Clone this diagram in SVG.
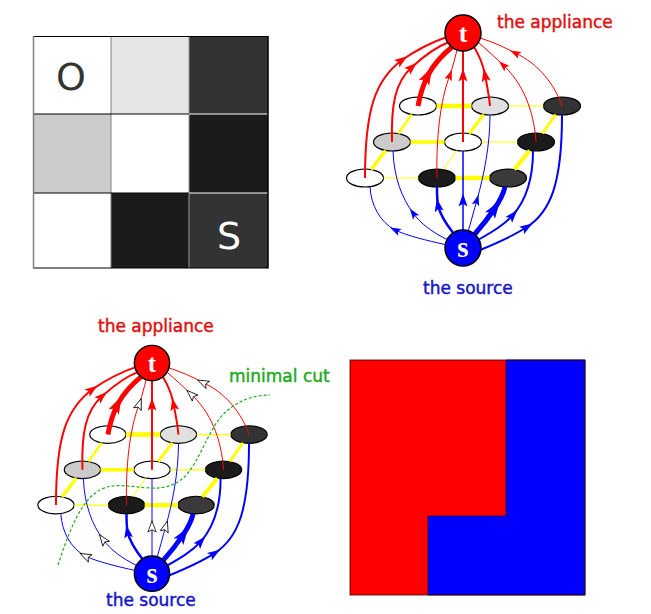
<svg xmlns="http://www.w3.org/2000/svg" width="651" height="614" viewBox="0 0 651 614">
<style>
.lbl{font-family:"DejaVu Sans","Liberation Sans",sans-serif;font-size:17px;stroke-width:0.45}
.red{fill:none;stroke:#f00}
.blue{fill:none;stroke:#00f}
.yel{stroke:#ffff00;fill:none}
.nd{stroke:#000;stroke-width:1.2}
.st{stroke:#000;stroke-width:1.5}
.ts{font-family:"Liberation Serif","DejaVu Serif",serif;font-weight:bold;fill:#fff;text-anchor:middle}
.cut{fill:none;stroke:#22aa22;stroke-width:1.2;stroke-dasharray:3,2}
</style>
<defs>
<marker id="ar-r-s" markerUnits="userSpaceOnUse" orient="auto" overflow="visible" markerWidth="1" markerHeight="1"><path d="M5.5,0 L-5.5,-3.8 L-3.2,0 L-5.5,3.8 Z" fill="#f00"/></marker>
<marker id="ar-r-m" markerUnits="userSpaceOnUse" orient="auto" overflow="visible" markerWidth="1" markerHeight="1"><path d="M6.5,0 L-6.5,-4.5 L-3.8,0 L-6.5,4.5 Z" fill="#f00"/></marker>
<marker id="ar-r-l" markerUnits="userSpaceOnUse" orient="auto" overflow="visible" markerWidth="1" markerHeight="1"><path d="M9,0 L-9,-6 L-5,0 L-9,6 Z" fill="#f00"/></marker>
<marker id="ar-b-s" markerUnits="userSpaceOnUse" orient="auto" overflow="visible" markerWidth="1" markerHeight="1"><path d="M5.5,0 L-5.5,-3.8 L-3.2,0 L-5.5,3.8 Z" fill="#00f"/></marker>
<marker id="ar-b-m" markerUnits="userSpaceOnUse" orient="auto" overflow="visible" markerWidth="1" markerHeight="1"><path d="M6.5,0 L-6.5,-4.5 L-3.8,0 L-6.5,4.5 Z" fill="#00f"/></marker>
<marker id="ar-b-l" markerUnits="userSpaceOnUse" orient="auto" overflow="visible" markerWidth="1" markerHeight="1"><path d="M9,0 L-9,-6 L-5,0 L-9,6 Z" fill="#00f"/></marker>
<marker id="ar-h" markerUnits="userSpaceOnUse" orient="auto" overflow="visible" markerWidth="1" markerHeight="1"><path d="M6,0 L-5.5,-4.2 L-3.2,0 L-5.5,4.2 Z" fill="#fff" stroke="#000" stroke-width="0.8"/></marker>
</defs>
<rect width="651" height="614" fill="#fff"/>

<!-- Image grid -->
<g id="image-grid">
<rect x="33" y="36" width="78" height="78" fill="#fff"/>
<rect x="111" y="36" width="78" height="78" fill="#e5e5e5"/>
<rect x="189" y="36" width="79" height="78" fill="#333"/>
<rect x="33" y="114" width="78" height="79" fill="#cbcbcb"/>
<rect x="111" y="114" width="78" height="79" fill="#fff"/>
<rect x="189" y="114" width="79" height="79" fill="#1b1b1b"/>
<rect x="33" y="193" width="78" height="75" fill="#fff"/>
<rect x="111" y="193" width="78" height="75" fill="#1b1b1b"/>
<rect x="189" y="193" width="79" height="75" fill="#333"/>
<line x1="111" y1="36" x2="111" y2="268" stroke="#808080" stroke-width="1"/>
<line x1="189" y1="36" x2="189" y2="268" stroke="#999" stroke-width="1"/>
<line x1="33" y1="114" x2="189" y2="114" stroke="#000" stroke-width="1"/>
<line x1="189" y1="114" x2="268" y2="114" stroke="#fff" stroke-width="1"/>
<line x1="33" y1="193" x2="189" y2="193" stroke="#000" stroke-width="1"/>
<line x1="189" y1="193" x2="268" y2="193" stroke="#fff" stroke-width="1"/>
<line x1="33" y1="36.5" x2="268" y2="36.5" stroke="#000" stroke-width="1.2"/>
<line x1="33" y1="268" x2="268" y2="268" stroke="#000" stroke-width="1.2"/>
<line x1="268" y1="36" x2="268" y2="268.6" stroke="#000" stroke-width="1.5"/>
<line x1="33.5" y1="36" x2="33.5" y2="268" stroke="#808080" stroke-width="1.5"/>
<text x="71" y="90" font-family="DejaVu Sans, sans-serif" font-size="38" fill="#333" text-anchor="middle">O</text>
<text x="229" y="249" font-family="DejaVu Sans, sans-serif" font-size="38" fill="#fff" text-anchor="middle">S</text>
</g>

<!-- Top-right graph -->
<g id="graph-top">
<g id="tr-TL"><ellipse class="nd" cx="418" cy="106" rx="18.5" ry="9" fill="#fff"/></g>
<g id="tr-TM"><ellipse class="nd" cx="490" cy="106" rx="18.5" ry="9" fill="#e0e0e0"/></g>
<g id="tr-TR"><ellipse class="nd" cx="562" cy="106" rx="18.5" ry="9" fill="#333"/></g>
<g id="tr-ML"><ellipse class="nd" cx="392" cy="142" rx="18.5" ry="9" fill="#cbcbcb"/></g>
<g id="tr-MM"><ellipse class="nd" cx="463" cy="142" rx="18.5" ry="9" fill="#fff"/></g>
<g id="tr-MR"><ellipse class="nd" cx="536" cy="142" rx="18.5" ry="9" fill="#1b1b1b"/></g>
<g id="tr-BL"><ellipse class="nd" cx="365" cy="178" rx="18.5" ry="9" fill="#fff"/></g>
<g id="tr-BM"><ellipse class="nd" cx="437" cy="178" rx="18.5" ry="9" fill="#1b1b1b"/></g>
<g id="tr-BR"><ellipse class="nd" cx="508" cy="178" rx="18.5" ry="9" fill="#3a3a3a"/></g>
<g id="tr-connectors">
<line class="yel" x1="436.5" y1="106" x2="471.5" y2="106" stroke-width="4.5"/>
<line class="yel" x1="508.5" y1="106" x2="543.5" y2="106" stroke-width="1.2"/>
<line class="yel" x1="410.5" y1="142" x2="444.5" y2="142" stroke-width="3.5"/>
<line class="yel" x1="481.5" y1="142" x2="517.5" y2="142" stroke-width="1.2"/>
<line class="yel" x1="383.5" y1="178" x2="418.5" y2="178" stroke-width="1.2"/>
<line class="yel" x1="455.5" y1="178" x2="489.5" y2="178" stroke-width="4.5"/>
<line class="yel" x1="371.3" y1="169.5" x2="385.7" y2="150.5" stroke-width="3.5"/>
<line class="yel" x1="398.3" y1="133.5" x2="411.7" y2="114.5" stroke-width="2.5"/>
<line class="yel" x1="443.3" y1="169.5" x2="456.7" y2="150.5" stroke-width="1"/>
<line class="yel" x1="469.3" y1="133.5" x2="483.7" y2="114.5" stroke-width="3"/>
<line class="yel" x1="514.3" y1="169.5" x2="529.7" y2="150.5" stroke-width="4"/>
<line class="yel" x1="542.3" y1="133.5" x2="555.7" y2="114.5" stroke-width="3"/>
<path class="blue" stroke-width="1" marker-mid="url(#ar-b-s)" d="M447,245 C425,240 408,236 395,230 C380,222 371,205 370,187"/>
<path class="blue" stroke-width="1" marker-mid="url(#ar-b-s)" d="M448,240 C432,232 421,224 413,213 C402,198 394,178 393,151"/>
<path class="blue" stroke-width="2.5" marker-mid="url(#ar-b-m)" d="M454,234 C446,224 440,215 438,205 C437,199 437,193 437,187"/>
<path class="blue" stroke-width="1.5" marker-mid="url(#ar-b-m)" d="M463,232 L463,200 L463,151"/>
<path class="blue" stroke-width="1" marker-mid="url(#ar-b-s)" d="M468,232 C471,222 474,210 477,200 C484,175 490,145 490,115"/>
<path class="blue" stroke-width="5" marker-mid="url(#ar-b-l)" d="M474,235 C482,226 489,217 495,208 C499,202 503,195 505,187"/>
<path class="blue" stroke-width="2" marker-mid="url(#ar-b-m)" d="M478,240 C492,232 504,225 513,215 C526,200 533,180 533,151"/>
<path class="blue" stroke-width="2" marker-mid="url(#ar-b-m)" d="M480,250 C497,243 513,236 527,227 C550,212 562,185 562,115"/>
<path class="red" stroke-width="2" marker-mid="url(#ar-r-m)" d="M365,178 C365,110 375,80 402,60 C418,49 432,42 447,37"/>
<path class="red" stroke-width="2" marker-mid="url(#ar-r-m)" d="M392,142 C391,105 395,82 412,67 C424,56 436,47 449,42"/>
<path class="red" stroke-width="5" marker-mid="url(#ar-r-l)" d="M418,106 C420,95 423,85 428,75 C434,64 441,56 452,47"/>
<path class="red" stroke-width="1" marker-mid="url(#ar-r-s)" d="M437,178 C436,140 440,100 450,75 C453,66 455,58 457,50"/>
<path class="red" stroke-width="2" marker-mid="url(#ar-r-m)" d="M463,142 L463,75 L463,50"/>
<path class="red" stroke-width="2" marker-mid="url(#ar-r-m)" d="M490,106 C489,95 487,85 485,75 C483,64 479,55 474,47"/>
<path class="red" stroke-width="1" marker-mid="url(#ar-r-s)" d="M536,142 C534,110 522,82 503,65 C495,57 487,50 479,43"/>
<path class="red" stroke-width="1" marker-mid="url(#ar-r-s)" d="M562,106 C555,85 538,63 515,53 C504,47 493,42 480,38"/>
</g>
<g id="tr-t"><circle class="st" cx="463" cy="33" r="18" fill="#f00"/><text class="ts" x="463" y="42" font-size="26">t</text></g>
<g id="tr-s"><circle class="st" cx="463" cy="248" r="18" fill="#00f"/><text class="ts" x="463" y="257" font-size="29">s</text></g>
<text class="lbl" x="497" y="28" fill="#e01010" stroke="#e01010">the appliance</text>
<text class="lbl" x="423" y="294" fill="#1414c8" stroke="#1414c8">the source</text>
</g>

<!-- Bottom-left graph with minimal cut -->
<g id="graph-cut">
<g transform="translate(152,363) scale(0.98) translate(-463,-33)">
<g id="bl-TL"><ellipse class="nd" cx="418" cy="106" rx="18.5" ry="9" fill="#fff"/></g>
<g id="bl-TM"><ellipse class="nd" cx="490" cy="106" rx="18.5" ry="9" fill="#e0e0e0"/></g>
<g id="bl-TR"><ellipse class="nd" cx="562" cy="106" rx="18.5" ry="9" fill="#333"/></g>
<g id="bl-ML"><ellipse class="nd" cx="392" cy="142" rx="18.5" ry="9" fill="#cbcbcb"/></g>
<g id="bl-MM"><ellipse class="nd" cx="463" cy="142" rx="18.5" ry="9" fill="#fff"/></g>
<g id="bl-MR"><ellipse class="nd" cx="536" cy="142" rx="18.5" ry="9" fill="#1b1b1b"/></g>
<g id="bl-BL"><ellipse class="nd" cx="365" cy="178" rx="18.5" ry="9" fill="#fff"/></g>
<g id="bl-BM"><ellipse class="nd" cx="437" cy="178" rx="18.5" ry="9" fill="#1b1b1b"/></g>
<g id="bl-BR"><ellipse class="nd" cx="508" cy="178" rx="18.5" ry="9" fill="#3a3a3a"/></g>
<g id="bl-connectors">
<line class="yel" x1="436.5" y1="106" x2="471.5" y2="106" stroke-width="4.5"/>
<line class="yel" x1="508.5" y1="106" x2="543.5" y2="106" stroke-width="1.2"/>
<line class="yel" x1="410.5" y1="142" x2="444.5" y2="142" stroke-width="3.5"/>
<line class="yel" x1="481.5" y1="142" x2="517.5" y2="142" stroke-width="1.2"/>
<line class="yel" x1="383.5" y1="178" x2="418.5" y2="178" stroke-width="1.2"/>
<line class="yel" x1="455.5" y1="178" x2="489.5" y2="178" stroke-width="4.5"/>
<line class="yel" x1="371.3" y1="169.5" x2="385.7" y2="150.5" stroke-width="3.5"/>
<line class="yel" x1="398.3" y1="133.5" x2="411.7" y2="114.5" stroke-width="2.5"/>
<line class="yel" x1="443.3" y1="169.5" x2="456.7" y2="150.5" stroke-width="1"/>
<line class="yel" x1="469.3" y1="133.5" x2="483.7" y2="114.5" stroke-width="3"/>
<line class="yel" x1="514.3" y1="169.5" x2="529.7" y2="150.5" stroke-width="4"/>
<line class="yel" x1="542.3" y1="133.5" x2="555.7" y2="114.5" stroke-width="3"/>
<path class="blue" stroke-width="1" marker-mid="url(#ar-h)" d="M447,245 C425,240 408,236 395,230 C380,222 371,205 370,187"/>
<path class="blue" stroke-width="1" marker-mid="url(#ar-h)" d="M448,240 C432,232 421,224 413,213 C402,198 394,178 393,151"/>
<path class="blue" stroke-width="2.5" marker-mid="url(#ar-b-m)" d="M454,234 C446,224 440,215 438,205 C437,199 437,193 437,187"/>
<path class="blue" stroke-width="1" marker-mid="url(#ar-h)" d="M463,232 L463,200 L463,151"/>
<path class="blue" stroke-width="1" marker-mid="url(#ar-h)" d="M468,232 C471,222 474,210 477,200 C484,175 490,145 490,115"/>
<path class="blue" stroke-width="5" marker-mid="url(#ar-b-l)" d="M474,235 C482,226 489,217 495,208 C499,202 503,195 505,187"/>
<path class="blue" stroke-width="2" marker-mid="url(#ar-b-m)" d="M478,240 C492,232 504,225 513,215 C526,200 533,180 533,151"/>
<path class="blue" stroke-width="2" marker-mid="url(#ar-b-m)" d="M480,250 C497,243 513,236 527,227 C550,212 562,185 562,115"/>
<path class="red" stroke-width="2" marker-mid="url(#ar-r-m)" d="M365,178 C365,110 375,80 402,60 C418,49 432,42 447,37"/>
<path class="red" stroke-width="2" marker-mid="url(#ar-r-m)" d="M392,142 C391,105 395,82 412,67 C424,56 436,47 449,42"/>
<path class="red" stroke-width="5" marker-mid="url(#ar-r-l)" d="M418,106 C420,95 423,85 428,75 C434,64 441,56 452,47"/>
<path class="red" stroke-width="1" marker-mid="url(#ar-h)" d="M437,178 C436,140 440,100 450,75 C453,66 455,58 457,50"/>
<path class="red" stroke-width="2" marker-mid="url(#ar-r-m)" d="M463,142 L463,75 L463,50"/>
<path class="red" stroke-width="2" marker-mid="url(#ar-r-m)" d="M490,106 C489,95 487,85 485,75 C483,64 479,55 474,47"/>
<path class="red" stroke-width="1" marker-mid="url(#ar-h)" d="M536,142 C534,110 522,82 503,65 C495,57 487,50 479,43"/>
<path class="red" stroke-width="1" marker-mid="url(#ar-h)" d="M562,106 C555,85 538,63 515,53 C504,47 493,42 480,38"/>
</g>
<g id="bl-t"><circle class="st" cx="463" cy="33" r="18" fill="#f00"/><text class="ts" x="463" y="42" font-size="26">t</text></g>
<g id="bl-s"><circle class="st" cx="463" cy="248" r="18" fill="#00f"/><text class="ts" x="463" y="257" font-size="29">s</text></g>
</g>
<path id="minimal-cut" class="cut" d="M58,565 C68,535 80,500 100,490 C115,482 130,487 150,488 C165,489 178,485 188,473 C200,458 207,435 220,418 C235,400 255,395 270,395"/>
<text class="lbl" x="98" y="332" fill="#e01010" stroke="#e01010">the appliance</text>
<text class="lbl" x="106" y="606" fill="#1414c8" stroke="#1414c8">the source</text>
<text class="lbl" x="229" y="382" fill="#22aa22" stroke="#22aa22">minimal cut</text>
</g>

<!-- Segmentation result -->
<g id="segmentation">
<rect x="350" y="360" width="235" height="235" fill="#f00"/>
<polygon points="506,360 585,360 585,595 428,595 428,516 506,516" fill="#00f" stroke="#200040" stroke-width="0.8"/>
<rect x="350" y="360" width="235" height="235" fill="none" stroke="#300" stroke-width="0.8"/>
</g>
</svg>
